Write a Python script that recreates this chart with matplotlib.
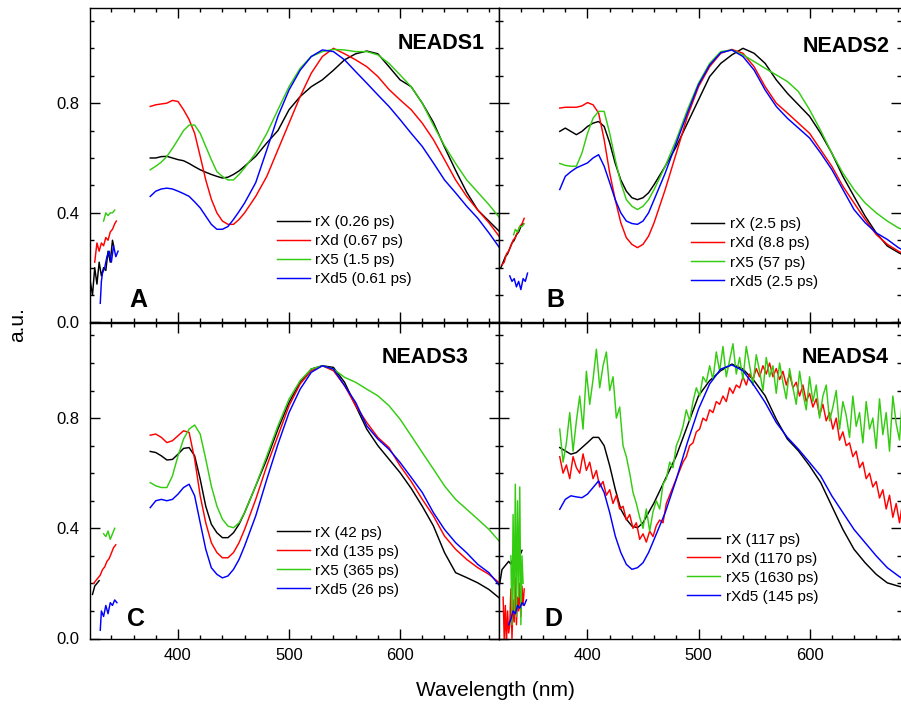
import numpy as np
import matplotlib
matplotlib.use('Agg')
import matplotlib.pyplot as plt
from matplotlib.ticker import MultipleLocator

plt.rcParams['font.family'] = ['Liberation Sans', 'DejaVu Sans']

# ---------------- data ----------------
# common wavelength grid of the main (visible) segment
wl = [375, 380, 385, 390, 395, 400, 405, 410, 415, 420, 425, 430, 435, 440, 445, 450,
      455, 460, 470, 480, 490, 500, 510, 520, 530, 540, 550, 560, 570, 580, 590, 600,
      610, 620, 630, 640, 650, 660, 670, 680, 690]

# Panel A (NEADS1)
A_rX = [0.60, 0.60, 0.605, 0.606, 0.60, 0.594, 0.59, 0.58, 0.568, 0.557, 0.548, 0.54, 0.533, 0.527, 0.53, 0.54,
        0.553, 0.57, 0.606, 0.655, 0.70, 0.776, 0.824, 0.86, 0.885, 0.92, 0.958, 0.98, 0.99, 0.98, 0.933, 0.885,
        0.86, 0.80, 0.73, 0.64, 0.555, 0.475, 0.41, 0.37, 0.33]
A_rXd = [0.788, 0.794, 0.797, 0.80, 0.81, 0.806, 0.776, 0.74, 0.69, 0.606, 0.52, 0.45, 0.40, 0.37, 0.358, 0.358,
         0.376, 0.40, 0.46, 0.533, 0.63, 0.727, 0.824, 0.909, 0.97, 1.0, 0.98, 0.958, 0.933, 0.897, 0.85, 0.812,
         0.776, 0.727, 0.667, 0.594, 0.52, 0.46, 0.41, 0.364, 0.31]
A_rX5 = [0.557, 0.57, 0.585, 0.606, 0.635, 0.667, 0.70, 0.72, 0.72, 0.69, 0.642, 0.594, 0.55, 0.533, 0.52, 0.52,
         0.54, 0.564, 0.618, 0.69, 0.776, 0.86, 0.927, 0.97, 0.988, 0.996, 0.994, 0.988, 0.988, 0.976, 0.945, 0.903,
         0.86, 0.80, 0.72, 0.645, 0.58, 0.52, 0.475, 0.43, 0.38]
A_rXd5 = [0.46, 0.479, 0.487, 0.49, 0.487, 0.479, 0.47, 0.46, 0.44, 0.418, 0.388, 0.358, 0.34, 0.34, 0.35, 0.376,
          0.405, 0.436, 0.51, 0.63, 0.752, 0.848, 0.92, 0.97, 0.994, 0.988, 0.958, 0.915, 0.873, 0.83, 0.788, 0.74,
          0.69, 0.642, 0.582, 0.52, 0.473, 0.424, 0.38, 0.327, 0.27]

# Panel B (NEADS2)
B_rX = [0.697, 0.709, 0.697, 0.685, 0.697, 0.715, 0.727, 0.733, 0.715, 0.655, 0.58, 0.52, 0.479, 0.455, 0.448, 0.455,
        0.473, 0.503, 0.57, 0.642, 0.727, 0.812, 0.897, 0.945, 0.976, 1.0, 0.982, 0.945, 0.885, 0.836, 0.794, 0.752,
        0.69, 0.618, 0.533, 0.46, 0.388, 0.327, 0.279, 0.255, 0.235]
B_rXd = [0.782, 0.785, 0.785, 0.785, 0.79, 0.802, 0.794, 0.764, 0.667, 0.545, 0.448, 0.364, 0.309, 0.285, 0.273, 0.285,
         0.315, 0.364, 0.485, 0.618, 0.752, 0.86, 0.933, 0.982, 0.996, 0.982, 0.933, 0.86, 0.80, 0.764, 0.727, 0.69,
         0.63, 0.57, 0.497, 0.436, 0.376, 0.321, 0.285, 0.26, 0.24]
B_rX5 = [0.58, 0.573, 0.57, 0.57, 0.618, 0.69, 0.745, 0.77, 0.77, 0.69, 0.594, 0.51, 0.448, 0.424, 0.412, 0.424,
         0.448, 0.485, 0.57, 0.667, 0.776, 0.873, 0.945, 0.988, 0.994, 0.976, 0.952, 0.927, 0.903, 0.879, 0.842, 0.776,
         0.70, 0.618, 0.545, 0.485, 0.436, 0.40, 0.37, 0.345, 0.33]
B_rXd5 = [0.485, 0.533, 0.55, 0.564, 0.573, 0.582, 0.60, 0.612, 0.57, 0.51, 0.448, 0.40, 0.37, 0.361, 0.358, 0.37,
          0.40, 0.448, 0.545, 0.655, 0.764, 0.867, 0.939, 0.984, 0.994, 0.97, 0.921, 0.848, 0.788, 0.745, 0.709, 0.673,
          0.618, 0.558, 0.485, 0.412, 0.364, 0.327, 0.303, 0.273, 0.25]

# Panel C (NEADS3)
C_rX = [0.679, 0.675, 0.663, 0.648, 0.65, 0.669, 0.69, 0.693, 0.663, 0.578, 0.48, 0.415, 0.384, 0.366, 0.366, 0.384,
        0.415, 0.457, 0.554, 0.651, 0.76, 0.857, 0.93, 0.978, 0.99, 0.984, 0.93, 0.845, 0.76, 0.70, 0.651, 0.602,
        0.545, 0.48, 0.409, 0.312, 0.239, 0.221, 0.202, 0.178, 0.145]
C_rXd = [0.738, 0.742, 0.73, 0.711, 0.718, 0.736, 0.754, 0.748, 0.651, 0.518, 0.42, 0.348, 0.312, 0.293, 0.293, 0.312,
         0.348, 0.396, 0.505, 0.627, 0.736, 0.845, 0.924, 0.972, 0.99, 0.972, 0.918, 0.845, 0.784, 0.73, 0.693, 0.627,
         0.57, 0.505, 0.445, 0.372, 0.324, 0.287, 0.257, 0.233, 0.20]
C_rX5 = [0.566, 0.554, 0.548, 0.548, 0.59, 0.663, 0.724, 0.76, 0.775, 0.742, 0.651, 0.554, 0.481, 0.433, 0.408, 0.402,
         0.42, 0.457, 0.554, 0.663, 0.772, 0.869, 0.936, 0.978, 0.99, 0.978, 0.948, 0.93, 0.905, 0.881, 0.845, 0.796,
         0.736, 0.675, 0.615, 0.554, 0.505, 0.469, 0.433, 0.396, 0.35]
C_rXd5 = [0.475, 0.50, 0.505, 0.50, 0.505, 0.524, 0.548, 0.56, 0.518, 0.42, 0.324, 0.257, 0.233, 0.22, 0.227, 0.251,
          0.287, 0.336, 0.445, 0.578, 0.705, 0.82, 0.905, 0.966, 0.99, 0.978, 0.918, 0.857, 0.772, 0.724, 0.687, 0.639,
          0.585, 0.53, 0.457, 0.396, 0.348, 0.311, 0.269, 0.239, 0.19]

# Panel D (NEADS4)
D_rX = [0.693, 0.681, 0.669, 0.675, 0.693, 0.711, 0.73, 0.73, 0.70, 0.627, 0.542, 0.469, 0.433, 0.408, 0.402, 0.42,
        0.457, 0.493, 0.578, 0.663, 0.772, 0.881, 0.936, 0.972, 0.996, 0.978, 0.936, 0.881, 0.796, 0.724, 0.681, 0.627,
        0.566, 0.481, 0.396, 0.324, 0.275, 0.233, 0.202, 0.19, 0.18]
D_rXd5 = [0.469, 0.505, 0.518, 0.514, 0.511, 0.524, 0.548, 0.572, 0.53, 0.457, 0.372, 0.312, 0.269, 0.251, 0.257, 0.275,
          0.312, 0.36, 0.457, 0.578, 0.712, 0.833, 0.924, 0.978, 0.993, 0.972, 0.918, 0.857, 0.784, 0.73, 0.687, 0.639,
          0.59, 0.518, 0.457, 0.396, 0.348, 0.30, 0.257, 0.227, 0.20]
# noisy D spectra on a 3 nm grid
wl_fine = list(range(375, 691, 3))
D_rXd = [0.66, 0.60, 0.63, 0.58, 0.66, 0.62, 0.60, 0.67, 0.61, 0.64, 0.58, 0.61, 0.55, 0.57, 0.52, 0.54,
         0.49, 0.52, 0.47, 0.48, 0.43, 0.45, 0.40, 0.42, 0.36, 0.38, 0.35, 0.39, 0.37, 0.41, 0.43, 0.42,
         0.49, 0.52, 0.55, 0.58, 0.61, 0.64, 0.66, 0.70, 0.71, 0.75, 0.76, 0.80, 0.79, 0.83, 0.82, 0.86,
         0.85, 0.88, 0.86, 0.91, 0.89, 0.92, 0.91, 0.95, 0.92, 0.96, 0.94, 0.98, 0.95, 0.99, 0.96, 1.00,
         0.95, 0.98, 0.94, 0.97, 0.92, 0.96, 0.91, 0.93, 0.88, 0.92, 0.86, 0.89, 0.84, 0.87, 0.81, 0.85,
         0.79, 0.82, 0.76, 0.80, 0.72, 0.75, 0.70, 0.71, 0.66, 0.68, 0.62, 0.64, 0.58, 0.60, 0.55, 0.57,
         0.51, 0.54, 0.47, 0.52, 0.44, 0.49, 0.42, 0.50, 0.45, 0.47]
D_rX5 = [0.76, 0.64, 0.71, 0.82, 0.68, 0.79, 0.88, 0.76, 0.97, 0.85, 0.94, 1.05, 0.91, 0.99, 1.04, 0.90,
         0.95, 0.80, 0.84, 0.70, 0.66, 0.60, 0.53, 0.49, 0.44, 0.40, 0.47, 0.39, 0.46, 0.50, 0.47, 0.56,
         0.58, 0.64, 0.62, 0.70, 0.73, 0.77, 0.83, 0.79, 0.86, 0.91, 0.88, 0.95, 0.93, 0.99, 0.94, 1.04,
         0.97, 1.06, 0.95, 1.01, 1.07, 0.96, 1.02, 0.94, 1.06, 0.99, 0.92, 1.03, 0.97, 0.90, 1.02, 0.95,
         0.99, 0.89, 1.00, 0.93, 0.87, 0.98, 0.91, 0.85, 0.97, 0.89, 0.83, 0.95, 0.86, 0.92, 0.80, 0.88,
         0.92, 0.79, 0.84, 0.90, 0.76, 0.86, 0.81, 0.73, 0.88, 0.77, 0.82, 0.71, 0.86, 0.76, 0.80, 0.69,
         0.87, 0.74, 0.82, 0.68, 0.88, 0.78, 0.72, 0.90, 0.75, 0.81]

# short UV segments (wavelengths, values)
A_uv_rX = ([321, 323, 325, 327, 329, 331, 333, 335, 337, 339, 341, 342],
           [0.15, 0.10, 0.20, 0.14, 0.22, 0.17, 0.20, 0.19, 0.26, 0.22, 0.30, 0.28])
A_uv_rXd = ([325, 327, 329, 331, 333, 335, 337, 339, 341, 343, 344.5],
            [0.22, 0.29, 0.26, 0.29, 0.28, 0.31, 0.30, 0.33, 0.34, 0.36, 0.37])
A_uv_rX5 = ([333, 335, 337, 339, 341, 343], [0.37, 0.40, 0.39, 0.40, 0.40, 0.41])
A_uv_rXd5 = ([330, 331, 332, 334, 336, 338, 340, 342, 344, 346],
             [0.07, 0.15, 0.18, 0.20, 0.24, 0.26, 0.22, 0.28, 0.24, 0.26])

B_uv_rX = ([322, 324, 326, 328, 330, 332, 334, 336, 338, 340, 342],
           [0.20, 0.22, 0.24, 0.25, 0.27, 0.29, 0.30, 0.32, 0.33, 0.35, 0.36])
B_uv_rXd = ([323, 325, 327, 329, 331, 333, 335, 337, 339, 341, 343],
            [0.21, 0.22, 0.25, 0.26, 0.28, 0.30, 0.31, 0.33, 0.35, 0.36, 0.38])
B_uv_rX5 = ([333.5, 335, 337, 339, 341, 343], [0.32, 0.34, 0.33, 0.35, 0.35, 0.36])
B_uv_rXd5 = ([330, 332, 334, 336, 338, 340, 342, 344, 346],
             [0.17, 0.15, 0.16, 0.13, 0.15, 0.12, 0.16, 0.15, 0.18])

C_uv_rX = ([323, 325, 327, 329], [0.16, 0.19, 0.20, 0.21])
C_uv_rXd = ([324, 326, 328, 330, 332, 334, 336, 338, 340, 342, 344],
            [0.20, 0.21, 0.22, 0.23, 0.25, 0.26, 0.28, 0.29, 0.31, 0.33, 0.34])
C_uv_rX5 = ([333, 335, 337, 339, 341, 343], [0.38, 0.37, 0.39, 0.36, 0.38, 0.40])
C_uv_rXd5 = ([330, 331, 333, 335, 337, 339, 341, 343, 345],
             [0.03, 0.10, 0.08, 0.12, 0.09, 0.13, 0.12, 0.14, 0.13])

D_uv_rX = ([321, 323, 325, 327, 329, 331, 333, 335, 337, 339, 341],
           [0.20, 0.25, 0.26, 0.27, 0.28, 0.27, 0.29, 0.29, 0.30, 0.30, 0.32])
D_uv_rXd = ([324, 325, 326, 327, 328, 329, 330, 331, 332, 333, 334, 335, 336, 337, 338, 339, 340, 341, 342, 343],
            [0.15, 0.00, 0.12, -0.02, 0.10, 0.02, 0.05, 0.18, 0.00, 0.14, 0.06, 0.22, 0.05, 0.15, 0.10, 0.20,
             0.08, 0.19, 0.12, 0.18])
D_uv_rX5 = ([331, 332, 333, 334, 335, 336, 337, 338, 339, 340, 341, 342],
            [0.30, 0.05, 0.45, 0.10, 0.56, 0.08, 0.50, 0.15, 0.55, 0.05, 0.30, 0.20])
D_uv_rXd5 = ([329, 331, 333, 335, 337, 339, 341, 343, 345],
             [0.05, 0.07, 0.10, 0.09, 0.12, 0.11, 0.13, 0.12, 0.14])

panel_titles = ['NEADS1', 'NEADS2', 'NEADS3', 'NEADS4']
panel_letters = ['A', 'B', 'C', 'D']
labels_A = ['rX (0.26 ps)', 'rXd (0.67 ps)', 'rX5 (1.5 ps)', 'rXd5 (0.61 ps)']
labels_B = ['rX (2.5 ps)', 'rXd (8.8 ps)', 'rX5 (57 ps)', 'rXd5 (2.5 ps)']
labels_C = ['rX (42 ps)', 'rXd (135 ps)', 'rX5 (365 ps)', 'rXd5 (26 ps)']
labels_D = ['rX (117 ps)', 'rXd (1170 ps)', 'rX5 (1630 ps)', 'rXd5 (145 ps)']

colors = ['#000000', '#ff0000', '#33cc11', '#0000ff']

# ---------------- figure ----------------
W, H = 901, 705
fig = plt.figure(figsize=(W / 100, H / 100), dpi=100)

xl, xm, xr = 89.5, 499, 901
yt, ym, yb = 8, 322.5, 638.5
scale = (xm - xl) / (689.1 - 320.3)  # px per nm

def rect(x0, x1, y0, y1):
    return [x0 / W, 1 - y1 / H, (x1 - x0) / W, (y1 - y0) / H]

axA = fig.add_axes(rect(xl, xm, yt, ym))
axB = fig.add_axes(rect(xm, xr, yt, ym))
axC = fig.add_axes(rect(xl, xm, ym, yb))
axD = fig.add_axes(rect(xm, xr, ym, yb))

panels = [
    (axA, [(A_uv_rX, wl, A_rX), (A_uv_rXd, wl, A_rXd), (A_uv_rX5, wl, A_rX5), (A_uv_rXd5, wl, A_rXd5)], labels_A),
    (axB, [(B_uv_rX, wl, B_rX), (B_uv_rXd, wl, B_rXd), (B_uv_rX5, wl, B_rX5), (B_uv_rXd5, wl, B_rXd5)], labels_B),
    (axC, [(C_uv_rX, wl, C_rX), (C_uv_rXd, wl, C_rXd), (C_uv_rX5, wl, C_rX5), (C_uv_rXd5, wl, C_rXd5)], labels_C),
    (axD, [(D_uv_rX, wl, D_rX), (D_uv_rXd, wl_fine, D_rXd), (D_uv_rX5, wl_fine, D_rX5), (D_uv_rXd5, wl, D_rXd5)], labels_D),
]

legend_anchor = [(0.457, 0.341), (0.477, 0.334), (0.457, 0.3575), (0.468, 0.335)]
title_pos = [(676.4, 0.997), (672.4, 0.988), (661.7, 0.999), (671.5, 0.999)]
letter_pos = [(355.9, 0.056), (362.6, 0.056), (353.8, 0.047), (361.5, 0.047)]

for i, (ax, series, labs) in enumerate(panels):
    for (uv, wlm, vals), lab, c in zip(series, labs, colors):
        x = list(uv[0]) + [np.nan] + list(wlm)
        y = list(uv[1]) + [np.nan] + list(vals)
        ax.plot(x, y, color=c, lw=1.05, label=lab)
    right = i in (1, 3)
    ax.set_xlim(320.3, 320.3 + ((xr if right else xm) - (xm if right else xl)) / scale)
    ax.set_ylim(0, 1.147)
    ax.xaxis.set_major_locator(MultipleLocator(100))
    ax.xaxis.set_minor_locator(MultipleLocator(20))
    ax.yaxis.set_major_locator(MultipleLocator(0.4))
    ax.yaxis.set_minor_locator(MultipleLocator(0.1))
    ax.tick_params(which='both', direction='in', top=True, bottom=True, left=True, right=True,
                   labelsize=12, width=1.0, colors='black')
    ax.tick_params(which='major', length=7, pad=7)
    ax.tick_params(which='minor', length=3)
    ax.tick_params(labelleft=not right, labelbottom=i >= 2)
    ax.yaxis.set_major_formatter(plt.FuncFormatter(lambda v, p: f'{v:.1f}'))
    for s in ax.spines.values():
        s.set_linewidth(1.0)
    if right:
        ax.spines['right'].set_visible(False)
    ax.text(*title_pos[i], panel_titles[i], fontsize=15.5, fontweight='bold', ha='right', va='baseline')
    ax.text(*letter_pos[i], panel_letters[i], fontsize=18, fontweight='bold', ha='left', va='baseline')
    ax.legend(loc='upper left', bbox_to_anchor=legend_anchor[i], frameon=False, fontsize=11,
              handlelength=2.17, handletextpad=0.37, labelspacing=0.33, borderpad=0, borderaxespad=0)

fig.text(495 / W, 1 - 690 / H, 'Wavelength (nm)', fontsize=15, ha='center', va='center')
fig.text(18 / W, 1 - 325 / H, 'a.u.', fontsize=15, ha='center', va='center', rotation=90)

fig.savefig('out.png', dpi=100)
